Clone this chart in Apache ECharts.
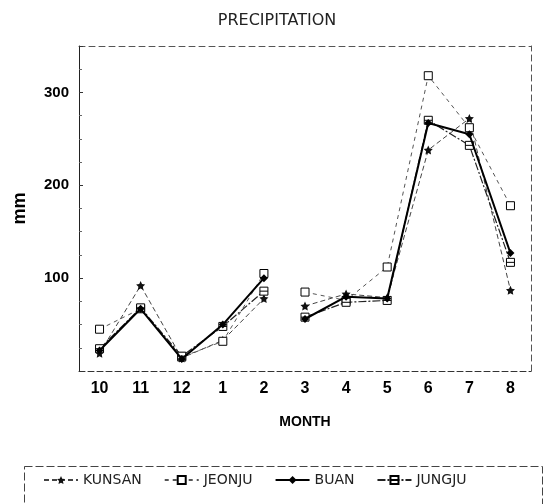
<!DOCTYPE html>
<html>
<head>
<meta charset="utf-8">
<script src="https://cdn.jsdelivr.net/npm/echarts@6/dist/echarts.min.js"></script>
<style>html,body{margin:0;padding:0;background:#fff}#c{width:545px;height:504px}</style>
</head>
<body>
<div id="c"></div>
<script>
const months = ['10','11','12','1','2','3','4','5','6','7','8'];
const kunsan = [19, 92, 14, 33, 78, 70, 83, 79, 238, 272, 87];
const jeonju = [45, 67, 15, 32, 105, 85, 76, 112, 318, 262, 178];
const buan   = [22, 67, 13, 50, 100, 56, 80, 78, 267, 255, 127];
const jungju = [24, 68, 16, 48, 86, 58, 74, 76, 270, 243, 117];
const yTicks = [100, 200, 300];
const breakAfter = 5; // line broken between '2' and '3'

const styles = {
  KUNSAN: {symbol:'path://M0,-10 L2.9,-4 L9.5,-3.1 L4.7,1.5 L5.9,8.1 L0,5 L-5.9,8.1 L-4.7,1.5 L-9.5,-3.1 L-2.9,-4 Z', size:9, fill:'#111', line:{color:'#444', width:1, type:[5,3]}},
  JEONJU: {symbol:'rect', size:8, fill:'#fff', line:{color:'#555', width:1, type:[4,4]}},
  BUAN:   {symbol:'diamond', size:8, fill:'#000', line:{color:'#000', width:2, type:'solid'}},
  JUNGJU: {symbol:'path://M0,0 H10 V10 H0 Z M0,5 H10', size:8, fill:'#fff', line:{color:'#222', width:1.2, type:[8,2,2,2]}}
};
const stations = [['KUNSAN',kunsan],['JEONJU',jeonju],['BUAN',buan],['JUNGJU',jungju]];

const series = [];
stations.forEach(([name, vals]) => {
  const st = styles[name];
  const seg1 = vals.map((v,i) => i < breakAfter ? v : null);
  const seg2 = vals.map((v,i) => i >= breakAfter ? v : null);
  [seg1, seg2].forEach(d => series.push({
    name, type:'line', data:d, connectNulls:false,
    symbol: st.symbol, symbolSize: st.size, showAllSymbol:true,
    lineStyle: st.line,
    itemStyle: {color: st.fill, borderColor:'#000', borderWidth: st.fill === '#fff' ? 1 : 0},
    z: name === 'BUAN' ? 5 : 3
  }));
});

const chart = echarts.init(document.getElementById('c'), null, {renderer:'canvas'});
chart.setOption({
  animation:false,
  backgroundColor:'#fff',
  title:{text:'PRECIPITATION', left:272, top:8, textAlign:'center',
    textStyle:{fontFamily:'DejaVu Sans', fontWeight:'normal', fontSize:16, color:'#222'}},
  grid:{left:79, right:14, top:46, bottom:133},
  legend:{
    data: stations.map(s=>s[0]),
    left:38, top:468, itemWidth:34, itemHeight:10, itemGap:22,
    textStyle:{fontFamily:'DejaVu Sans', fontSize:14, color:'#222'},
    selectedMode:false
  },
  xAxis:[{
    type:'category', data:months, boundaryGap:true,
    name:'MONTH', nameLocation:'middle', nameGap:44,
    nameTextStyle:{fontFamily:'Liberation Sans', fontWeight:'bold', fontSize:14, color:'#000'},
    axisLine:{lineStyle:{color:'#333', type:[6,3], width:1}},
    axisTick:{alignWithLabel:true, length:-4, lineStyle:{color:'#333'}},
    axisLabel:{fontFamily:'Liberation Sans', fontWeight:'bold', fontSize:16, color:'#000', margin:10}
  },{
    type:'category', data:months, position:'top', boundaryGap:true,
    axisLine:{show:true, onZero:false, lineStyle:{color:'#555', type:[6,4], width:1}},
    axisTick:{show:false}, axisLabel:{show:false}
  }],
  yAxis:[{
    type:'value', min:0, max:350, interval:100,
    name:'mm', nameLocation:'middle', nameGap:50, nameRotate:90,
    nameTextStyle:{fontFamily:'Liberation Sans', fontWeight:'bold', fontSize:18, color:'#000'},
    axisLine:{show:true, lineStyle:{color:'#222', width:1}},
    axisTick:{show:true, length:-4, lineStyle:{color:'#333'}},
    minorTick:{show:true, splitNumber:4, length:-3, lineStyle:{color:'#666'}},
    splitLine:{show:false},
    axisLabel:{fontFamily:'Liberation Sans', fontWeight:'bold', fontSize:15, color:'#000', margin:10,
      formatter: v => yTicks.indexOf(v) >= 0 ? String(v) : ''}
  },{
    type:'value', min:0, max:350, position:'right',
    axisLine:{show:true, onZero:false, lineStyle:{color:'#555', type:[6,4], width:1}},
    axisTick:{show:false}, axisLabel:{show:false}, splitLine:{show:false}
  }],
  graphic:[{
    type:'rect', left:22, top:464,
    shape:{width:518, height:50},
    style:{fill:'none', stroke:'#444', lineWidth:1, lineDash:[8,3]}
  }],
  series
});
</script>
</body>
</html>
